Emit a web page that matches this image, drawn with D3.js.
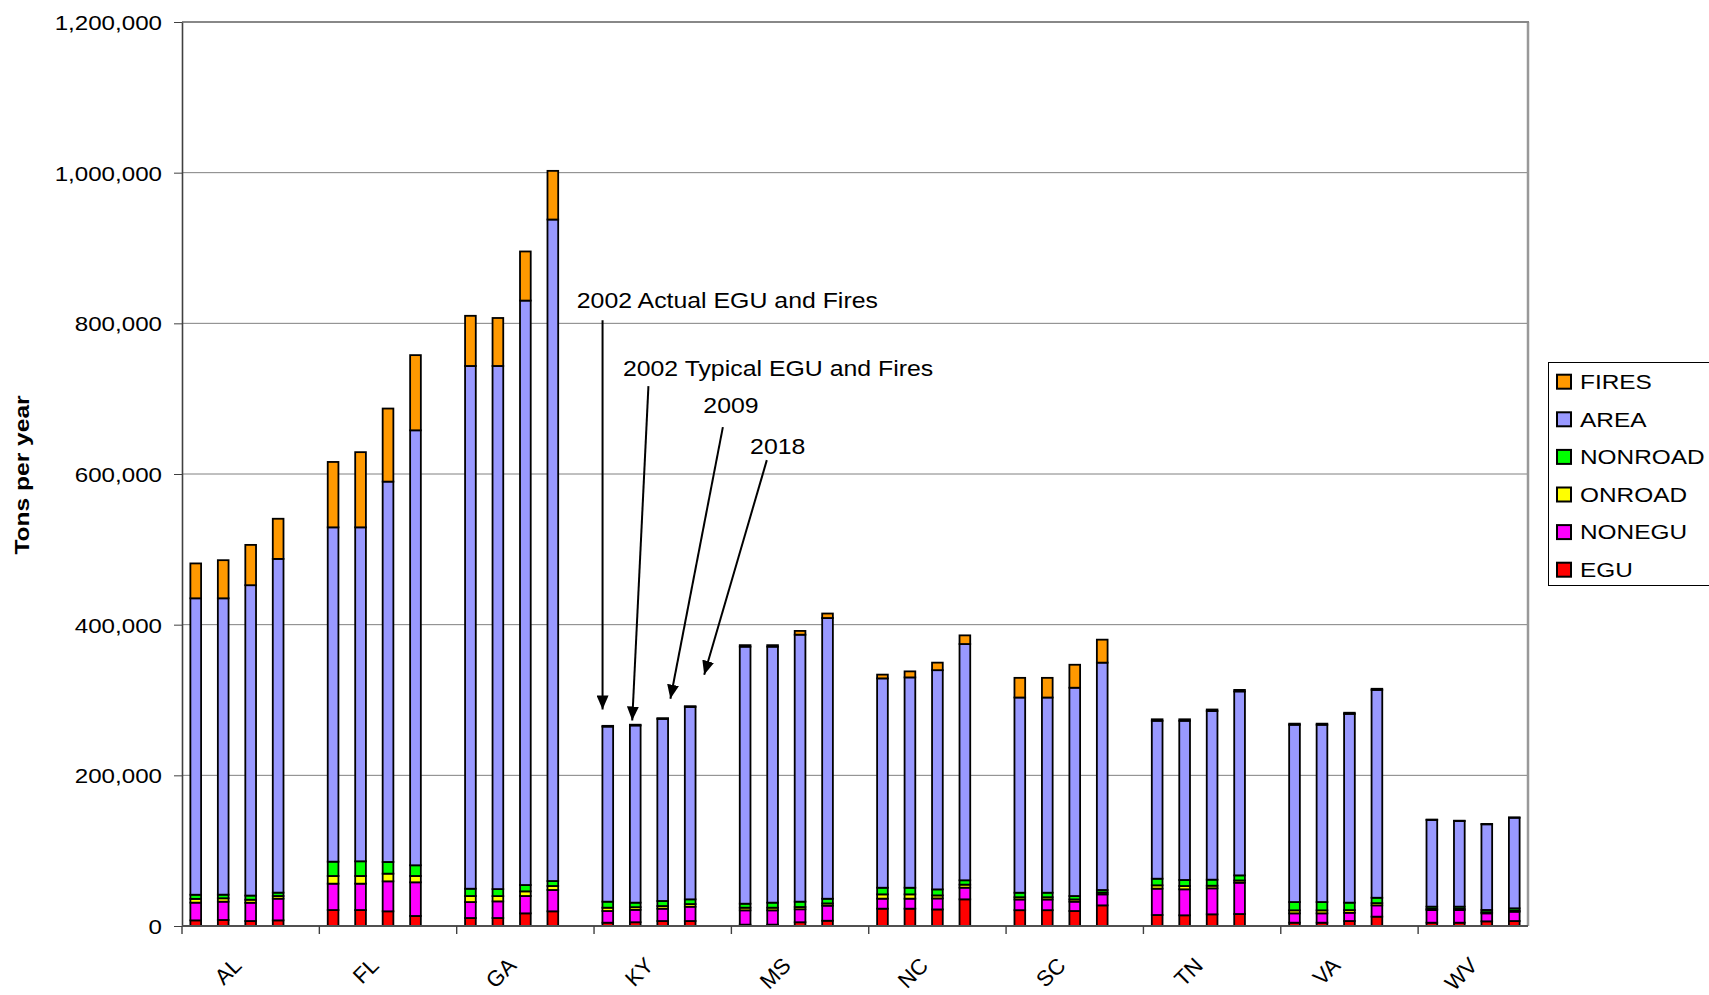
<!DOCTYPE html>
<html><head><meta charset="utf-8">
<script src="https://cdn.jsdelivr.net/npm/d3@7"></script>
<style>
html,body{margin:0;padding:0;background:#fff;overflow:hidden}
text{font-family:"Liberation Sans",Arial,sans-serif;fill:#000}
</style></head>
<body><svg id="chart" width="1709" height="995"></svg>
<script>
// ---- data ----
const states = ["AL","FL","GA","KY","MS","NC","SC","TN","VA","WV"];
const scenarios = ["2002 Actual EGU and Fires","2002 Typical EGU and Fires","2009","2018"];
const seriesNames = ["EGU","NONEGU","ONROAD","NONROAD","AREA","FIRES"];
const legendOrder = ["FIRES","AREA","NONROAD","ONROAD","NONEGU","EGU"];
const yTicks = [0,200000,400000,600000,800000,1000000,1200000];

const EGU = [7500,8000,6600,7500, 21200,21200,19500,13300, 10600,10600,16800,19500, 4400,5000,6600,6600, 1800,1800,5000,7000, 23000,23000,22000,35400, 21000,21000,19900,27400, 14600,14200,15500,15900, 4400,4400,6600,12400, 4400,4400,6200,6600];
const NONEGU = [23500,24300,24300,28800, 35000,35000,39800,44700, 21200,22100,23000,28300, 15500,16500,16400,19000, 19000,19000,17200,20000, 13300,13300,14600,15500, 14200,14200,12400,14600, 35000,34500,34500,41600, 12400,12400,11000,15000, 16800,16800,10600,12400];
const ONROAD = [5000,4500,4000,3500, 10200,10200,10200,8400, 8000,7000,6200,5300, 4400,3500,3500,3500, 3500,3500,3000,3000, 5700,5700,4000,4000, 3000,3000,3000,2500, 4400,4400,3500,3000, 4000,4000,3500,3000, 1500,1500,1500,1500];
const NONROAD = [5500,4800,5500,4500, 19000,19500,15500,14200, 9700,9300,8400,6600, 8000,6000,6700,6300, 5300,6700,7100,6200, 8800,8800,8000,5800, 6000,6000,4500,3300, 8800,8000,8000,6700, 11000,11000,9900,7100, 3000,3000,3000,3000];
const AREA = [393500,393400,412000,443000, 443800,443300,504900,577400, 693900,694400,775800,878100, 232400,235200,241700,255400, 341200,339800,354400,372600, 277900,279200,291000,313600, 259100,259100,276500,301800, 209600,211300,223900,244200, 235300,235300,250600,275900, 115100,113600,113700,120200];
const FIRES = [46300,50600,53500,53300, 86800,99800,97000,99800, 66600,63700,65200,64600, 1000,1000,1000,1000, 2000,2000,5000,6000, 5000,8000,10000,11500, 26100,26100,30500,30500, 2000,2000,2000,2000, 1500,1500,1500,1500, 500,500,500,500];

// annotation labels/arrows in data space (x in slot units, y in tons)
const annotations = [
  {label: scenarios[0], tx: 14.37, ty: 820700, x1: 15.31, y1: 804200, x2: 15.31, y2: 287400},
  {label: scenarios[1], tx: 16.05, ty: 730000, x1: 16.98, y1: 716600, x2: 16.39, y2: 272800},
  {label: scenarios[2], tx: 18.98, ty: 681400, x1: 19.69, y1: 662200, x2: 17.78, y2: 301700},
  {label: scenarios[3], tx: 20.68, ty: 626100, x1: 21.29, y1: 618400, x2: 19.01, y2: 333600}
];

const colors = {FIRES:"#FF9900", AREA:"#9999FF", NONROAD:"#00FF00", ONROAD:"#FFFF00", NONEGU:"#FF00FF", EGU:"#FF0000"};
const seriesArrays = {EGU, NONEGU, ONROAD, NONROAD, AREA, FIRES};

// ---- build rows ----
const rows = [];
states.forEach((s, i) => scenarios.forEach((sc, j) => {
  const r = {key: s + "|" + j, state: s, scen: sc};
  seriesNames.forEach(n => r[n] = seriesArrays[n][i * 4 + j]);
  rows.push(r);
}));
const slots = [];
states.forEach((s, i) => {
  for (let j = 0; j < 4; j++) slots.push(s + "|" + j);
  if (i < states.length - 1) slots.push(s + "|gap");
});

// ---- layout ----
const L = 182, R = 1528, T = 22, B = 926;
const svg = d3.select("#chart");
const x = d3.scaleBand().domain(slots).range([L, R]).padding(0);
const xPos = d3.scaleLinear().domain([0, slots.length]).range([L, R]);
const y = d3.scaleLinear().domain([0, 1200000]).range([B, T]);
const SX = 1.15;

// gridlines
svg.append("g").selectAll("line").data(yTicks.filter(d => d > 0)).join("line")
  .attr("x1", L).attr("x2", R).attr("y1", d => y(d)).attr("y2", d => y(d))
  .attr("stroke", "#808080").attr("stroke-width", 1);
// right border
svg.append("line").attr("x1", R).attr("x2", R).attr("y1", T).attr("y2", B)
  .attr("stroke", "#999").attr("stroke-width", 2.5);
svg.append("line").attr("x1", L).attr("x2", R + 1).attr("y1", T).attr("y2", T)
  .attr("stroke", "#888").attr("stroke-width", 2);

// bars
const stack = d3.stack().keys(seriesNames)(rows);
const bw = x.bandwidth() * 0.39;
svg.append("g").selectAll("g").data(stack).join("g")
  .attr("fill", d => colors[d.key])
  .selectAll("rect").data(d => d).join("rect")
  .attr("x", d => x(d.data.key) + (x.bandwidth() - bw) / 2)
  .attr("width", bw)
  .attr("y", d => y(d[1]))
  .attr("height", d => Math.max(0, y(d[0]) - y(d[1])))
  .attr("stroke", "#000").attr("stroke-width", 1.8);

// y axis
const yAxis = svg.append("g").attr("transform", `translate(${L},0)`)
  .call(d3.axisLeft(y).tickValues(yTicks).tickFormat(d3.format(",")).tickSize(8).tickSizeOuter(0));
yAxis.select(".domain").attr("stroke", "#404040").attr("stroke-width", 1.6);
yAxis.selectAll(".tick line").attr("stroke", "#404040");
yAxis.selectAll(".tick text")
  .attr("x", 0).attr("dy", "0.35em")
  .attr("transform", `translate(-20,0) scale(${SX},1)`)
  .style("font-size", "21px").style("font-family", "Liberation Sans, Arial, sans-serif");

// x axis
svg.append("line").attr("x1", L).attr("x2", R).attr("y1", B).attr("y2", B)
  .attr("stroke", "#505050").attr("stroke-width", 2);
const groupStarts = states.map(s => x(s + "|0"));
svg.append("g").selectAll("line").data(groupStarts).join("line")
  .attr("x1", d => d).attr("x2", d => d).attr("y1", B).attr("y2", B + 8)
  .attr("stroke", "#404040").attr("stroke-width", 1.4);
svg.append("g").selectAll("text").data(states).join("text")
  .attr("transform", s => `translate(${x(s + "|0") + 2 * x.bandwidth()},961) rotate(-45)`)
  .attr("text-anchor", "end").attr("dy", "0.38em")
  .style("font-size", "22px").text(s => s);

// y title
svg.append("text")
  .attr("transform", `translate(28.5,475) rotate(-90) scale(1.17,1)`)
  .attr("text-anchor", "middle").style("font-size", "21px").style("font-weight", "bold")
  .text("Tons per year");

// annotations
const defs = svg.append("defs");
defs.append("marker").attr("id", "ah").attr("markerUnits", "userSpaceOnUse")
  .attr("markerWidth", 14).attr("markerHeight", 12).attr("refX", 14).attr("refY", 6)
  .attr("orient", "auto")
  .append("path").attr("d", "M0,0 L14,6 L0,12 Z").attr("fill", "#000");
const ann = svg.append("g");
ann.selectAll("line").data(annotations).join("line")
  .attr("x1", d => xPos(d.x1)).attr("y1", d => y(d.y1))
  .attr("x2", d => xPos(d.x2)).attr("y2", d => y(d.y2))
  .attr("stroke", "#000").attr("stroke-width", 2).attr("marker-end", "url(#ah)");
ann.selectAll("text").data(annotations).join("text")
  .attr("transform", d => `translate(${xPos(d.tx)},${y(d.ty)}) scale(1.13,1)`)
  .style("font-size", "22px").text(d => d.label);

// legend
const lg = svg.append("g");
lg.append("rect").attr("x", 1548.5).attr("y", 362.5).attr("width", 200).attr("height", 223)
  .attr("fill", "#fff").attr("stroke", "#000").attr("stroke-width", 1);
const li = lg.selectAll("g.li").data(legendOrder).join("g").attr("class", "li")
  .attr("transform", (d, i) => `translate(0,${381.7 + i * 37.6})`);
li.append("rect").attr("x", 1557).attr("y", -7).attr("width", 14).attr("height", 14)
  .attr("fill", d => colors[d]).attr("stroke", "#000").attr("stroke-width", 2);
li.append("text").attr("transform", "translate(1580,0) scale(1.22,1)").attr("dy", "0.36em")
  .style("font-size", "20px").text(d => d);
</script></body></html>
